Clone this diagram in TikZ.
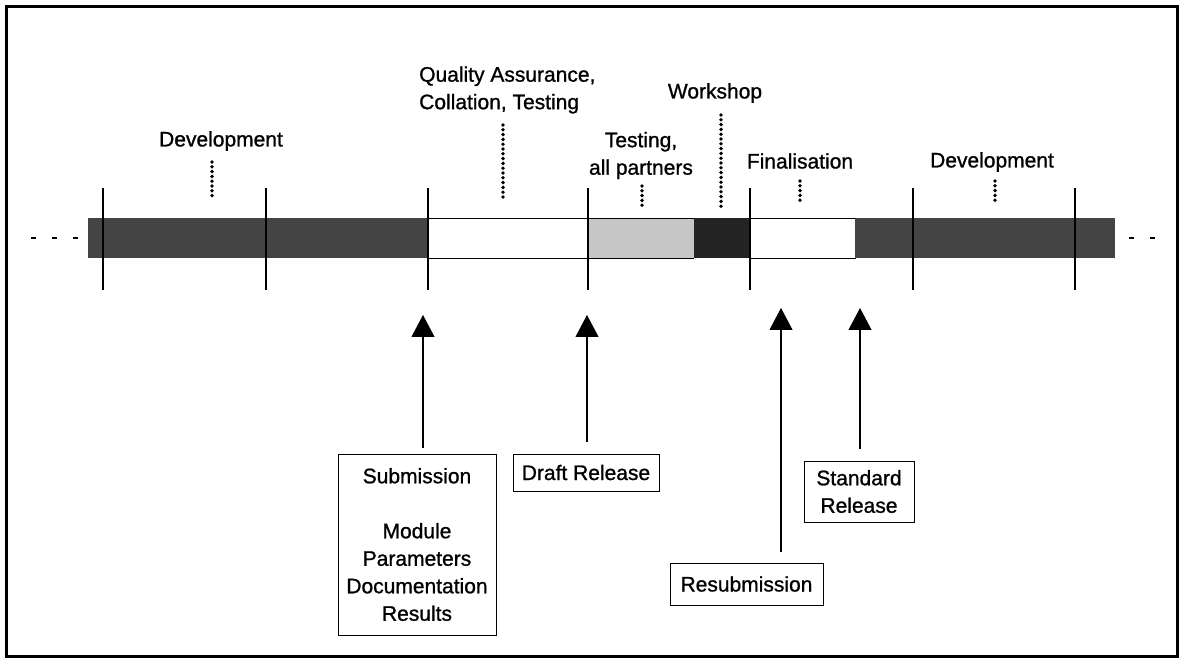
\documentclass[tikz,border=0pt]{standalone}
\usepackage{fontspec}
\setmainfont{Liberation Sans}
\newfontfamily\lblfont{Liberation Sans}[RawFeature={embolden=1.0}]
\usetikzlibrary{arrows.meta}
\definecolor{devgray}{HTML}{444444}
\definecolor{testgray}{HTML}{C6C6C6}
\definecolor{workgray}{HTML}{242424}
\tikzset{
  lbl/.style={inner sep=0pt, font=\lblfont\fontsize{21}{27.5}\selectfont, align=center},
  phase/.style={draw=black, line width=0.9pt},
  tick/.style={line width=1.1pt},
  leader/.style={line width=3.8pt, line cap=round, dash pattern=on 0pt off 4.8pt},
  box/.style={draw, line width=1pt, inner sep=0pt, font=\lblfont\fontsize{21}{27.5}\selectfont, align=center},
  event/.style={line width=1.1pt, -{Triangle[length=22pt,width=23pt]}},
  cont/.style={line width=1.4pt, dash pattern=on 5pt off 16pt}
}
\begin{document}
\begin{tikzpicture}[x=1pt,y=-1pt]
\useasboundingbox (0,0) rectangle (1181,660);
% outer frame
\draw[line width=3pt] (6,7) rectangle (1177,656);

% timeline bar
\fill[devgray] (88,218) rectangle (428,258);
\draw[phase] (428,218) rectangle (588,258);
\fill[testgray] (588,218) rectangle (694,258);
\draw[phase] (588,218) -- (694,218) (588,258) -- (694,258);
\fill[workgray] (694,218) rectangle (750,258);
\draw[phase] (750,218) rectangle (855,258);
\fill[devgray] (855,218) rectangle (1115,258);

% continuation dashes
\draw[cont] (31,238) -- (80,238);
\draw[cont] (1129,238) -- (1160,238);

% ticks
\foreach \x in {103,266,428,588,750,913,1075}
  \draw[tick] (\x,188) -- (\x,290);

% phase labels
\node[lbl] (dev1) at (221,141) {Development};
\node[lbl, anchor=west, align=left] (qa) at (419,90) {Quality Assurance,\\Collation, Testing};
\node[lbl] (work) at (715,93) {Workshop};
\node[lbl] (test) at (641,155.5) {Testing,\\all partners};
\node[lbl] (fin) at (800,161) {Finalisation};
\node[lbl] (dev2) at (992,162) {Development};

% leaders from labels to bar
\coordinate (l1a) at (212,162); \coordinate (l1b) at (212,200);
\coordinate (l2a) at (503,125); \coordinate (l2b) at (503,200);
\coordinate (l3a) at (642,186); \coordinate (l3b) at (642,206);
\coordinate (l4a) at (721,115); \coordinate (l4b) at (721,208);
\coordinate (l5a) at (800,181); \coordinate (l5b) at (800,201);
\coordinate (l6a) at (995,181); \coordinate (l6b) at (995,201);
\foreach \i in {1,...,6}
  \draw[leader] (l\i a) -- (l\i b);

% event boxes
\node[box, minimum width=158pt, minimum height=181pt] (sub) at (417,544.5)
  {Submission\\[27.5pt]Module\\Parameters\\Documentation\\Results};
\node[box, minimum width=146pt, minimum height=37pt] (draft) at (586,472.5) {Draft Release};
\node[box, minimum width=110pt, minimum height=61pt] (std) at (859,491.5) {Standard\\Release};
\node[box, minimum width=153pt, minimum height=42pt] (resub) at (746.5,584) {Resubmission};

% event arrows
\coordinate (t1) at (423,315);
\coordinate (t2) at (587,315);
\coordinate (t3) at (781,308);
\coordinate (t4) at (860,308);
\draw[event, shorten <=6pt] (t1 |- sub.north) -- (t1);
\draw[event, shorten <=12pt] (t2 |- draft.north) -- (t2);
\draw[event, shorten <=11pt] (t3 |- resub.north) -- (t3);
\draw[event, shorten <=12pt] (t4 |- std.north) -- (t4);
\end{tikzpicture}
\end{document}
